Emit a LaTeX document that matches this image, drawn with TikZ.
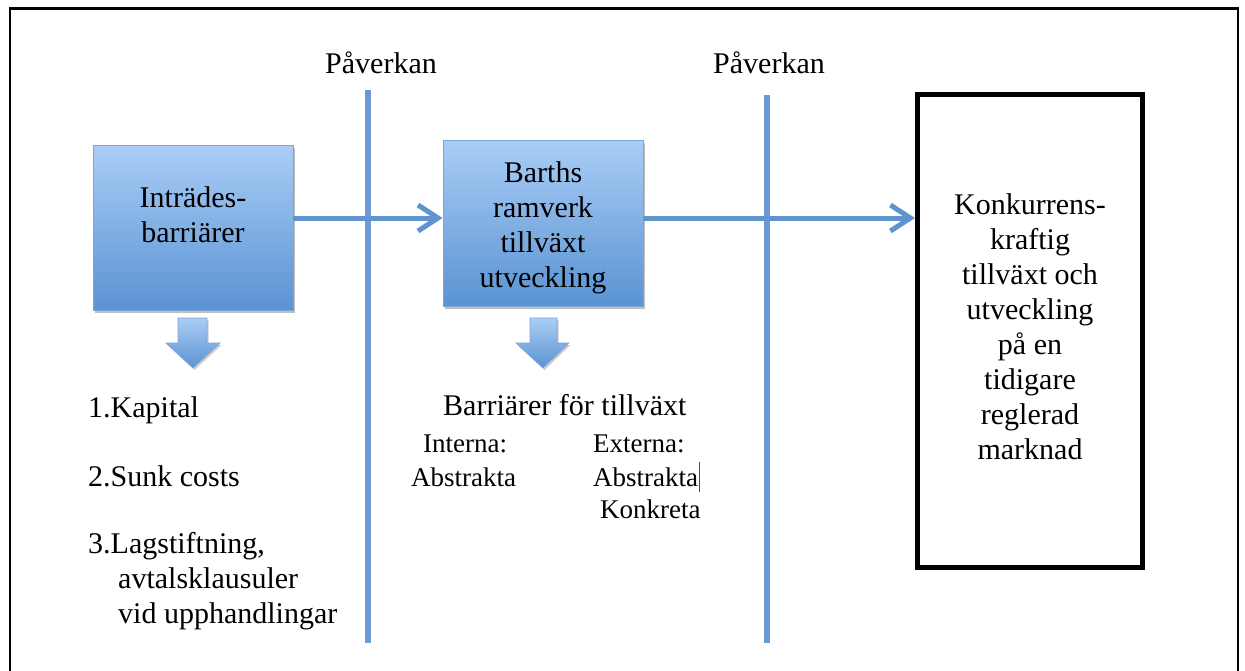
\documentclass[tikz,border=0pt]{standalone}
\usepackage{fontspec}
\setmainfont{Liberation Serif}
\usetikzlibrary{arrows.meta,shadows}
\definecolor{bluelight}{HTML}{AACDF6}
\definecolor{bluedark}{HTML}{5A93D3}
\definecolor{bluerim}{HTML}{79A6DA}
\definecolor{lineblue}{HTML}{6B9BD2}
\definecolor{connblue}{HTML}{5F94CF}
\begin{document}
\begin{tikzpicture}[x=1pt,y=-1pt,
  txt/.style={font=\fontsize{30}{35}\selectfont, inner sep=0pt},
  smalltxt/.style={font=\fontsize{27}{32}\selectfont, inner sep=0pt},
  bluebox/.style={draw=bluerim, line width=0.8pt, top color=bluelight, bottom color=bluedark,
    minimum width=200pt, drop shadow={shadow xshift=2pt, shadow yshift=-3pt, opacity=.25, fill=black}},
  blockarrow/.style={draw=bluerim, line width=0.6pt, top color=bluelight, bottom color=bluedark,
    drop shadow={shadow xshift=1.5pt, shadow yshift=-2pt, opacity=.2, fill=black}},
  divider/.style={draw=lineblue, line width=6pt},
  conn/.style={draw=connblue, line width=5pt, -{Straight Barb[length=20pt,width=26pt,line width=5pt]}},
  bigbox/.style={draw=black, line width=5pt, minimum width=224.5pt, minimum height=473pt, inner sep=0pt}
]
\useasboundingbox (0,0) rectangle (1245,670);
\fill[white] (0,0) rectangle (1245,670);
% outer frame
\draw[line width=2.4pt] (10,690) -- (10,8.3) -- (1238,8.3) -- (1238,690);

% dividers
\draw[divider] (368,90) -- (368,643);
\draw[divider] (767,95) -- (767,643);
\node[txt, anchor=base west] (p1) at (325,73) {Påverkan};
\node[txt, anchor=base west] (p2) at (713,73) {Påverkan};

% boxes
\node[bluebox, minimum height=165pt] (b1) at (193,227.5) {};
\node[txt, align=center] (t1) at (193,215) {Inträdes-\\barriärer};
\node[bluebox, minimum height=166pt] (b2) at (543,223) {};
\node[txt, align=center] (t2) at (543,227.5) {Barths\\ramverk\\tillväxt\\utveckling};
\node[bigbox] (big) at (1029.75,331) {};
\node[txt, align=center] (t3) at (1030,326.5) {Konkurrens-\\kraftig\\tillväxt och\\utveckling\\på en\\tidigare\\reglerad\\marknad};

% connectors
\coordinate (row) at (0,218);
\draw[conn] (b1.east |- row) -- (b2.west |- row);
\draw[conn] (b2.east |- row) -- (big.west |- row);

% block arrows
\path[blockarrow] (178,318) -- (207,318) -- (207,343) -- (220,343) -- (193,368) -- (166,343) -- (178,343) -- cycle;
\path[blockarrow] (530,318) -- (557,318) -- (557,343) -- (569,343) -- (543,368) -- (516,343) -- (530,343) -- cycle;

% left list
\node[txt, anchor=base west] (l1) at (88,417) {1.Kapital};
\node[txt, anchor=base west] (l2) at (88,486) {2.Sunk costs};
\node[txt, anchor=base west] (l3) at (88,553) {3.Lagstiftning,};
\node[txt, anchor=base west] (l4) at (118,588) {avtalsklausuler};
\node[txt, anchor=base west] (l5) at (118,623) {vid upphandlingar};

% middle list
\node[txt, anchor=base west] (m0) at (443,415) {Barriärer för tillväxt};
\node[smalltxt, anchor=base west] (m1) at (423,452) {Interna:};
\node[smalltxt, anchor=base west] (m2) at (593,452) {Externa:};
\node[smalltxt, anchor=base west] (m3) at (411,486) {Abstrakta};
\node[smalltxt, anchor=base west] (m4) at (593,486) {Abstrakta};
\node[smalltxt, anchor=base west] (m5) at (600,518) {Konkreta};
\draw[line width=1pt, black!70] (m4.base east) ++(1,-24) -- ++(0,30);
\end{tikzpicture}
\end{document}
